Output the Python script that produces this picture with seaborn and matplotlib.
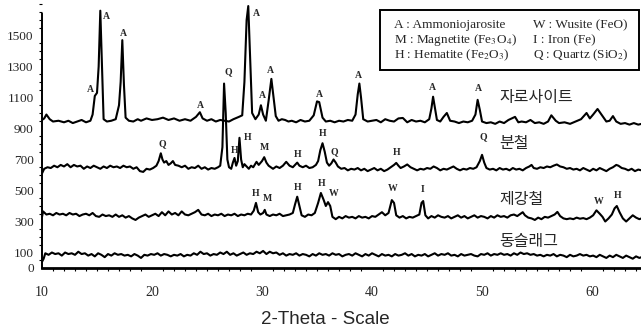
import pandas as pd
import seaborn as sns
import matplotlib.pyplot as plt
from matplotlib.patches import Rectangle
from matplotlib.ticker import MultipleLocator

# ==========================================
# 1. DATA
# ==========================================
# (2-theta, intensity) pairs for each sample
jarosite = [
    (10.0, 955), (10.2, 965), (10.4, 990), (10.7, 960), (11.0, 945), (11.5, 950), (12.0, 940),
    (12.4, 950), (12.8, 935), (13.2, 945), (13.6, 955), (14.0, 940), (14.4, 950), (14.6, 990),
    (14.8, 1110), (15.0, 1130), (15.15, 1300), (15.3, 1660), (15.45, 1300), (15.6, 960),
    (15.9, 945), (16.3, 950), (16.7, 960), (17.0, 1050), (17.15, 1200), (17.3, 1470),
    (17.45, 1180), (17.6, 970), (17.9, 950), (18.3, 945), (18.7, 960), (19.0, 950), (19.5, 965),
    (20.0, 955), (20.5, 960), (21.0, 970), (21.5, 955), (22.0, 965), (22.5, 950), (23.0, 960),
    (23.5, 950), (24.0, 975), (24.35, 1005), (24.6, 965), (25.0, 950), (25.4, 960), (25.8, 945),
    (26.2, 955), (26.6, 950), (27.0, 945), (27.4, 960), (27.9, 975), (28.2, 985), (28.4, 1200),
    (28.6, 1600), (28.75, 1690), (28.9, 1400), (29.1, 1000), (29.4, 960), (29.7, 990),
    (29.9, 1050), (30.1, 990), (30.35, 950), (30.6, 1080), (30.85, 1220), (31.05, 1100),
    (31.25, 980), (31.5, 950), (31.8, 960), (32.1, 955), (32.4, 945), (32.7, 950), (33.1, 940),
    (33.5, 955), (33.9, 945), (34.3, 950), (34.7, 985), (35.0, 1075), (35.2, 1070), (35.5, 970),
    (35.8, 945), (36.2, 950), (36.6, 940), (37.0, 950), (37.4, 945), (37.8, 955), (38.2, 950),
    (38.5, 990), (38.7, 1120), (38.85, 1190), (39.0, 1100), (39.2, 960), (39.6, 945), (40.0, 950),
    (40.4, 955), (40.8, 940), (41.2, 960), (41.6, 950), (42.0, 945), (42.4, 965), (42.8, 968),
    (43.2, 940), (43.6, 955), (44.0, 945), (44.4, 950), (44.8, 940), (45.2, 960), (45.4, 1030),
    (45.55, 1105), (45.7, 1040), (45.9, 955), (46.2, 945), (46.5, 975), (46.8, 1000), (47.1, 950),
    (47.5, 945), (47.9, 935), (48.3, 945), (48.7, 940), (49.1, 950), (49.4, 990), (49.6, 1085),
    (49.8, 1020), (50.0, 945), (50.4, 935), (50.8, 940), (51.2, 930), (51.6, 945), (52.0, 935),
    (52.4, 955), (53.0, 975), (53.3, 940), (53.6, 945), (54.0, 940), (54.4, 955), (54.8, 935),
    (55.2, 940), (55.6, 930), (56.0, 945), (56.3, 985), (56.7, 950), (57.0, 935), (57.5, 940),
    (58.0, 930), (58.5, 945), (59.0, 960), (59.5, 1000), (59.8, 965), (60.1, 990), (60.5, 1026),
    (60.9, 985), (61.3, 945), (61.6, 950), (61.9, 980), (62.2, 945), (62.6, 930), (63.0, 935),
    (63.4, 925), (63.8, 935), (64.2, 925), (64.5, 930),
]

bunchul = [
    (10.0, 610), (10.2, 640), (10.5, 650), (10.8, 645), (11.1, 660), (11.4, 650), (11.7, 665),
    (12.0, 655), (12.3, 670), (12.6, 650), (12.9, 665), (13.2, 655), (13.5, 660), (13.8, 640),
    (14.1, 655), (14.4, 645), (14.7, 660), (15.0, 650), (15.3, 640), (15.6, 655), (15.9, 645),
    (16.2, 660), (16.5, 650), (16.8, 655), (17.1, 645), (17.4, 660), (17.7, 650), (18.0, 655),
    (18.3, 640), (18.6, 650), (18.9, 625), (19.2, 620), (19.5, 640), (19.8, 635), (20.1, 645),
    (20.4, 660), (20.6, 690), (20.8, 740), (20.95, 700), (21.1, 680), (21.3, 690), (21.5, 665),
    (21.7, 675), (21.9, 690), (22.1, 665), (22.4, 660), (22.7, 650), (23.0, 660), (23.3, 640),
    (23.6, 650), (23.9, 645), (24.2, 660), (24.5, 640), (24.8, 650), (25.1, 635), (25.4, 645),
    (25.7, 640), (26.0, 650), (26.2, 660), (26.4, 780), (26.55, 1190), (26.7, 1000),
    (26.85, 700), (27.0, 650), (27.2, 640), (27.35, 680), (27.5, 710), (27.65, 660), (27.8, 690),
    (27.95, 840), (28.1, 700), (28.25, 650), (28.4, 670), (28.6, 655), (28.8, 640), (29.0, 660),
    (29.2, 650), (29.5, 685), (29.7, 665), (30.0, 690), (30.2, 715), (30.4, 680), (30.6, 660),
    (30.8, 650), (31.0, 640), (31.3, 655), (31.6, 645), (31.9, 660), (32.2, 685), (32.5, 660),
    (32.8, 650), (33.0, 665), (33.2, 680), (33.4, 660), (33.7, 650), (34.0, 660), (34.3, 645),
    (34.6, 650), (34.9, 665), (35.1, 690), (35.3, 760), (35.5, 805), (35.7, 750), (35.9, 680),
    (36.1, 660), (36.3, 675), (36.5, 700), (36.7, 680), (36.9, 655), (37.2, 640), (37.5, 645),
    (37.8, 630), (38.1, 640), (38.4, 635), (38.7, 645), (39.0, 630), (39.3, 640), (39.6, 625),
    (39.9, 635), (40.2, 645), (40.5, 630), (40.8, 640), (41.1, 625), (41.4, 635), (41.7, 650),
    (42.0, 665), (42.2, 678), (42.4, 660), (42.6, 645), (42.9, 655), (43.2, 668), (43.5, 650),
    (43.8, 640), (44.1, 630), (44.4, 640), (44.7, 635), (45.0, 645), (45.3, 640), (45.6, 655),
    (45.9, 645), (46.2, 630), (46.5, 640), (46.8, 635), (47.1, 645), (47.4, 655), (47.7, 640),
    (48.0, 630), (48.3, 640), (48.6, 635), (48.9, 645), (49.2, 640), (49.5, 650), (49.8, 690),
    (50.0, 730), (50.2, 680), (50.4, 645), (50.7, 635), (51.0, 640), (51.3, 630), (51.6, 645),
    (51.9, 635), (52.2, 640), (52.5, 630), (52.8, 645), (53.1, 635), (53.4, 640), (53.7, 630),
    (54.0, 645), (54.3, 655), (54.5, 665), (54.7, 645), (55.0, 640), (55.3, 650), (55.6, 645),
    (55.9, 655), (56.2, 650), (56.5, 660), (56.8, 668), (57.1, 655), (57.4, 650), (57.7, 640),
    (58.0, 645), (58.3, 635), (58.6, 640), (58.9, 630), (59.2, 645), (59.5, 635), (59.8, 625),
    (60.1, 640), (60.4, 630), (60.7, 645), (61.0, 635), (61.3, 625), (61.6, 640), (61.9, 650),
    (62.2, 665), (62.4, 660), (62.7, 645), (63.0, 640), (63.3, 630), (63.6, 640), (63.9, 625),
    (64.2, 635), (64.5, 630),
]

steel = [
    (10.0, 330), (10.1, 365), (10.4, 345), (10.7, 350), (11.0, 340), (11.3, 355), (11.6, 345),
    (11.9, 350), (12.2, 340), (12.5, 355), (12.8, 345), (13.1, 350), (13.4, 335), (13.7, 345),
    (14.0, 350), (14.3, 340), (14.6, 355), (14.9, 335), (15.2, 330), (15.5, 345), (15.8, 335),
    (16.1, 340), (16.4, 330), (16.7, 345), (17.0, 330), (17.3, 340), (17.6, 325), (17.9, 335),
    (18.2, 320), (18.5, 310), (18.8, 325), (19.1, 335), (19.4, 345), (19.7, 330), (20.0, 340),
    (20.3, 350), (20.6, 335), (20.9, 360), (21.2, 340), (21.5, 365), (21.8, 345), (22.1, 355),
    (22.4, 340), (22.7, 365), (23.0, 345), (23.3, 340), (23.6, 350), (23.9, 360), (24.2, 375),
    (24.5, 345), (24.8, 340), (25.1, 350), (25.4, 335), (25.7, 345), (26.0, 340), (26.3, 350),
    (26.6, 335), (26.9, 345), (27.2, 340), (27.5, 350), (27.8, 335), (28.1, 345), (28.4, 340),
    (28.7, 350), (29.0, 345), (29.25, 370), (29.45, 420), (29.65, 360), (29.85, 345),
    (30.1, 355), (30.25, 375), (30.4, 345), (30.7, 335), (31.0, 345), (31.3, 340), (31.6, 350),
    (31.9, 335), (32.2, 340), (32.5, 345), (32.8, 355), (33.0, 410), (33.2, 460), (33.4, 400),
    (33.6, 340), (33.9, 330), (34.2, 345), (34.5, 340), (34.8, 355), (35.1, 420), (35.35, 484),
    (35.6, 440), (35.8, 400), (36.0, 425), (36.2, 400), (36.4, 330), (36.7, 315), (37.0, 330),
    (37.3, 320), (37.6, 335), (37.9, 325), (38.2, 330), (38.5, 320), (38.8, 335), (39.1, 325),
    (39.4, 330), (39.7, 320), (40.0, 335), (40.3, 330), (40.6, 345), (40.9, 360), (41.2, 340),
    (41.5, 355), (41.8, 438), (42.0, 420), (42.2, 340), (42.5, 325), (42.8, 335), (43.1, 320),
    (43.4, 330), (43.7, 325), (44.0, 335), (44.3, 345), (44.5, 420), (44.65, 432), (44.85, 340),
    (45.1, 320), (45.4, 335), (45.7, 325), (46.0, 340), (46.3, 330), (46.6, 325), (46.9, 335),
    (47.2, 320), (47.5, 330), (47.8, 340), (48.1, 325), (48.4, 335), (48.7, 320), (49.0, 330),
    (49.3, 340), (49.6, 325), (49.9, 335), (50.2, 330), (50.5, 320), (50.8, 335), (51.1, 325),
    (51.4, 340), (51.7, 330), (52.0, 335), (52.3, 325), (52.6, 340), (52.9, 345), (53.2, 335),
    (53.5, 350), (53.7, 360), (53.9, 340), (54.2, 325), (54.5, 320), (54.8, 310), (55.1, 325),
    (55.4, 315), (55.7, 330), (56.0, 325), (56.3, 335), (56.6, 345), (56.85, 362), (57.1, 335),
    (57.4, 320), (57.7, 315), (58.0, 320), (58.3, 315), (58.6, 325), (58.9, 318), (59.2, 322),
    (59.5, 315), (59.8, 325), (60.1, 340), (60.4, 372), (60.7, 350), (60.95, 330), (61.2, 300),
    (61.5, 320), (61.8, 345), (62.05, 385), (62.25, 400), (62.5, 360), (62.8, 320), (63.1, 300),
    (63.4, 320), (63.7, 340), (64.0, 325), (64.3, 315), (64.5, 320),
]

slag = [
    (10.0, 40), (10.15, 60), (10.3, 95), (10.6, 85), (10.9, 100), (11.2, 90), (11.5, 95),
    (11.8, 80), (12.1, 100), (12.4, 90), (12.7, 95), (13.0, 85), (13.3, 105), (13.6, 90),
    (13.9, 95), (14.2, 80), (14.5, 90), (14.8, 75), (15.1, 95), (15.4, 85), (15.7, 70),
    (16.0, 90), (16.3, 80), (16.6, 95), (16.9, 85), (17.2, 90), (17.5, 80), (17.8, 85),
    (18.1, 75), (18.4, 90), (18.7, 80), (19.0, 65), (19.3, 85), (19.6, 80), (19.9, 90),
    (20.2, 85), (20.5, 95), (20.8, 80), (21.1, 90), (21.4, 85), (21.7, 75), (22.0, 85),
    (22.3, 80), (22.6, 90), (22.9, 75), (23.2, 85), (23.5, 80), (23.8, 95), (24.1, 85),
    (24.4, 105), (24.7, 90), (25.0, 95), (25.3, 80), (25.6, 90), (25.9, 85), (26.2, 100),
    (26.5, 90), (26.8, 105), (27.1, 85), (27.4, 95), (27.7, 80), (28.0, 90), (28.3, 100),
    (28.6, 85), (28.9, 95), (29.2, 90), (29.5, 105), (29.8, 95), (30.1, 110), (30.4, 90),
    (30.7, 105), (31.0, 95), (31.3, 100), (31.6, 85), (31.9, 95), (32.2, 80), (32.5, 90),
    (32.8, 85), (33.1, 95), (33.4, 80), (33.7, 90), (34.0, 85), (34.3, 75), (34.6, 90),
    (34.9, 80), (35.2, 95), (35.5, 85), (35.8, 90), (36.1, 80), (36.4, 95), (36.7, 85),
    (37.0, 90), (37.3, 75), (37.6, 85), (37.9, 90), (38.2, 80), (38.5, 95), (38.8, 85),
    (39.1, 75), (39.4, 90), (39.7, 80), (40.0, 95), (40.3, 85), (40.6, 75), (40.9, 90),
    (41.2, 80), (41.5, 85), (41.8, 75), (42.1, 90), (42.4, 80), (42.7, 85), (43.0, 95),
    (43.3, 80), (43.6, 90), (43.9, 75), (44.2, 85), (44.5, 80), (44.8, 90), (45.1, 75),
    (45.4, 85), (45.7, 95), (46.0, 80), (46.3, 90), (46.6, 85), (46.9, 95), (47.2, 80),
    (47.5, 85), (47.8, 75), (48.1, 90), (48.4, 80), (48.7, 85), (49.0, 90), (49.3, 80),
    (49.6, 75), (49.9, 90), (50.2, 85), (50.5, 95), (50.8, 80), (51.1, 90), (51.4, 85),
    (51.7, 95), (52.0, 85), (52.3, 90), (52.6, 80), (52.9, 95), (53.2, 85), (53.5, 100),
    (53.8, 90), (54.1, 95), (54.4, 85), (54.7, 90), (55.0, 80), (55.3, 85), (55.6, 75),
    (55.9, 85), (56.2, 80), (56.5, 90), (56.8, 75), (57.1, 85), (57.4, 80), (57.7, 70),
    (58.0, 85), (58.3, 75), (58.6, 80), (58.9, 90), (59.2, 80), (59.5, 85), (59.8, 75),
    (60.1, 80), (60.4, 70), (60.7, 85), (61.0, 75), (61.3, 65), (61.6, 80), (61.9, 70),
    (62.2, 85), (62.5, 75), (62.8, 65), (63.1, 80), (63.4, 70), (63.7, 60), (64.0, 75),
    (64.3, 65), (64.5, 70),
]

samples = ["자로사이트", "분철", "제강철", "동슬래그"]

# peak identification letters: (phase, 2-theta, intensity)
jarosite_peaks = [("A", 14.4, 1150), ("A", 15.9, 1625), ("A", 17.4, 1515), ("A", 24.4, 1050),
                  ("A", 29.5, 1645), ("A", 30.0, 1115), ("A", 30.8, 1275), ("A", 35.2, 1120),
                  ("A", 38.8, 1240), ("A", 45.5, 1165), ("A", 49.7, 1155)]
bunchul_peaks = [("Q", 20.9, 800), ("Q", 26.9, 1265), ("H", 27.5, 760), ("H", 28.7, 840),
                 ("M", 30.2, 775), ("H", 33.2, 735), ("H", 35.5, 865), ("Q", 36.6, 750),
                 ("H", 42.2, 742), ("Q", 50.1, 845)]
steel_peaks = [("H", 29.4, 478), ("M", 30.5, 446), ("H", 33.2, 517), ("H", 35.4, 542),
               ("W", 36.5, 478), ("W", 41.9, 510), ("I", 44.6, 504), ("W", 60.6, 426),
               ("H", 62.3, 465)]

legend_left = ["A : Ammoniojarosite", "M : Magnetite (Fe$_3$O$_4$)", "H : Hematite (Fe$_2$O$_3$)"]
legend_right = ["W : Wusite (FeO)", "I : Iron (Fe)", "Q : Quartz (SiO$_2$)"]

# ==========================================
# 2. BUILD TABLE
# ==========================================
frames = []
for name, pts in zip(samples, [jarosite, bunchul, steel, slag]):
    d = pd.DataFrame(pts, columns=["two_theta", "intensity"])
    d["sample"] = name
    frames.append(d)
df = pd.concat(frames, ignore_index=True)

# ==========================================
# 3. PLOT
# ==========================================
sns.set_theme(style="white")
plt.rcParams['font.family'] = ['Liberation Serif', 'Noto Sans CJK KR']
plt.rcParams['mathtext.fontset'] = 'stix'

fig = plt.figure(figsize=(6.41, 3.35), dpi=100)
ax = fig.add_axes([42 / 641, 67 / 335, 599 / 641, 268 / 335])

sns.lineplot(data=df, x="two_theta", y="intensity", units="sample", estimator=None,
             sort=False, color="black", lw=1.5, ax=ax, legend=False)

ax.set_xlim(10, 64.45)
ax.set_ylim(0, 1729)
ax.set_xlabel("")
ax.set_ylabel("")

for s in ["top", "right"]:
    ax.spines[s].set_visible(False)
ax.spines["left"].set_bounds(0, 1640)
ax.spines["left"].set_linewidth(1.4)
ax.spines["bottom"].set_linewidth(2.0)
ax.spines["left"].set_color("black")
ax.spines["bottom"].set_color("black")

ax.set_yticks([0, 100, 300, 500, 700, 900, 1100, 1300, 1500])
ax.yaxis.set_minor_locator(MultipleLocator(50))
ax.set_xticks([10, 20, 30, 40, 50, 60])
ax.xaxis.set_minor_locator(MultipleLocator(1))
ax.tick_params(axis="y", which="major", direction="out", length=4, width=1, labelsize=9.5, pad=2, color="black")
ax.tick_params(axis="y", which="minor", direction="out", length=2, width=0.8, left=True, color="black")
ax.tick_params(axis="x", which="major", direction="out", length=4, width=1, labelsize=10, pad=9, color="black")
ax.tick_params(axis="x", which="minor", direction="out", length=2, width=0.8, bottom=True, color="black")

# phase letters above the peaks
for peaks in [jarosite_peaks, bunchul_peaks, steel_peaks]:
    for lab, x, y in peaks:
        ax.text(x, y, lab, ha="center", va="center", fontsize=7, fontweight="bold")

# sample names
name_y = [1097, 806, 439, 174]
for name, y in zip(samples, name_y):
    ax.text(51.6, y, name, ha="left", va="center", fontsize=11.5, family="Noto Sans CJK KR")

# phase key box
fig.patches.append(Rectangle((380 / 641, 1 - 70 / 335), 259 / 641, 60 / 335,
                             transform=fig.transFigure, fill=False, lw=1.4, ec="black"))
for i, (l, r) in enumerate(zip(legend_left, legend_right)):
    yy = 1 - (25 + 15 * i) / 335
    fig.text(394 / 641, yy, l, ha="left", va="center", fontsize=9.5)
    fig.text(533 / 641, yy, r, ha="left", va="center", fontsize=9.5)

fig.text(325 / 641, 1 - 320 / 335, "2-Theta - Scale", ha="center", va="center",
         fontsize=13.5, family="Liberation Sans")

plt.savefig("out.png", dpi=100)
